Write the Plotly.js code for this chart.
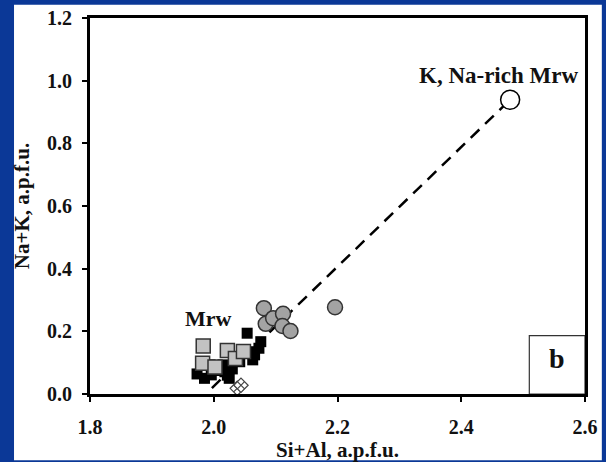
<!DOCTYPE html>
<html>
<head>
<meta charset="utf-8">
<script src="https://cdn.plot.ly/plotly-3.0.1.min.js"></script>
<style>
  html, body { margin: 0; padding: 0; background: #0b3897; }
  #chart { width: 606px; height: 462px; }
</style>
</head>
<body>
<div id="chart"></div>
<script>
// Si+Al vs Na+K (a.p.f.u.) for merwinite analyses

// Mrw, grey squares
const mrwGreyX = [1.983, 1.982, 2.002, 2.022, 2.035, 2.048];
const mrwGreyY = [0.153, 0.098, 0.086, 0.139, 0.113, 0.136];

// Mrw, black squares
const mrwBlackX = [2.054, 2.076, 2.073, 2.066, 2.063, 2.058, 2.015, 2.018, 2.025, 2.030, 1.973, 1.985, 1.996, 1.994, 2.042, 2.008, 2.022];
const mrwBlackY = [0.194, 0.167, 0.146, 0.125, 0.109, 0.135, 0.093, 0.071, 0.050, 0.080, 0.064, 0.050, 0.061, 0.093, 0.103, 0.075, 0.060];

// grey circles
const circX = [2.081, 2.084, 2.096, 2.112, 2.111, 2.124, 2.196];
const circY = [0.274, 0.224, 0.242, 0.256, 0.217, 0.201, 0.277];

// hatched diamonds
const diamX = [2.038, 2.044];
const diamY = [0.018, 0.028];

// K, Na-rich Mrw
const richX = [2.479];
const richY = [0.939];

// trend line between Mrw and K, Na-rich Mrw
const trendX = [1.997, 2.479];
const trendY = [0.019, 0.939];

const xTicks = [1.8, 2.0, 2.2, 2.4, 2.6];
const yTicks = [0.0, 0.2, 0.4, 0.6, 0.8, 1.0, 1.2];

const serif = 'Liberation Serif, Times New Roman, serif';

const traces = [
  {
    x: trendX, y: trendY, mode: 'lines', type: 'scatter',
    line: { color: '#000', width: 2.5, dash: '12px,8px' }, hoverinfo: 'skip'
  },
  {
    x: mrwBlackX, y: mrwBlackY, mode: 'markers', type: 'scatter',
    marker: { symbol: 'square', size: 11, color: '#000', line: { color: '#000', width: 0 } }
  },
  {
    x: mrwGreyX, y: mrwGreyY, mode: 'markers', type: 'scatter',
    marker: { symbol: 'square', size: 14, color: '#c2c2c2', line: { color: '#333', width: 1.5 } }
  },
  {
    x: circX, y: circY, mode: 'markers', type: 'scatter',
    marker: { symbol: 'circle', size: 15, color: '#a3a3a3', line: { color: '#333', width: 1.5 } }
  },
  {
    x: diamX, y: diamY, mode: 'markers', type: 'scatter',
    marker: { symbol: 'diamond-x', size: 11, color: '#fff', line: { color: '#444', width: 1.2 } }
  },
  {
    x: richX, y: richY, mode: 'markers', type: 'scatter',
    marker: { symbol: 'circle', size: 19, color: '#fff', line: { color: '#000', width: 1.5 } }
  }
];

const axisCommon = {
  showgrid: false, zeroline: false,
  showline: true, linecolor: '#000', linewidth: 3, mirror: true,
  ticks: 'outside', ticklen: 5, tickwidth: 2, tickcolor: '#000',
  tickformat: '.1f',
  tickfont: { family: serif, size: 20, color: '#111', weight: 'bold' }
};

const layout = {
  width: 606, height: 462,
  margin: { l: 90, r: 21, t: 18, b: 68 },
  paper_bgcolor: '#0b3897',
  plot_bgcolor: '#fff',
  showlegend: false,
  xaxis: Object.assign({}, axisCommon, {
    range: [1.8, 2.6], tickvals: xTicks, ticklabelstandoff: 8,
    title: { text: 'Si+Al, a.p.f.u.', font: { family: serif, size: 21, color: '#111', weight: 'bold' }, standoff: 5 }
  }),
  yaxis: Object.assign({}, axisCommon, {
    range: [0, 1.2], tickvals: yTicks, ticklabelstandoff: 6,
    title: { text: 'Na+K, a.p.f.u.', font: { family: serif, size: 21, color: '#111', weight: 'bold' }, standoff: 12 }
  }),
  shapes: [
    // white panel behind the chart
    { type: 'rect', xref: 'paper', yref: 'paper', x0: -0.1535, x1: 1.034, y0: -0.176, y1: 1.035,
      fillcolor: '#fff', line: { width: 0 }, layer: 'below' },
    // panel letter box
    { type: 'rect', xref: 'x', yref: 'y', x0: 2.51, x1: 2.6, y0: 0, y1: 0.186,
      fillcolor: 'rgba(0,0,0,0)', line: { color: '#333', width: 1.2 }, layer: 'above' }
  ],
  annotations: [
    { x: 2.461, y: 1.018, xref: 'x', yref: 'y', text: 'K, Na-rich Mrw', showarrow: false,
      font: { family: serif, size: 23, color: '#111', weight: 'bold' } },
    { x: 1.992, y: 0.242, xref: 'x', yref: 'y', text: 'Mrw', showarrow: false,
      font: { family: serif, size: 22, color: '#111', weight: 'bold' } },
    { x: 2.555, y: 0.112, xref: 'x', yref: 'y', text: 'b', showarrow: false,
      font: { family: serif, size: 28, color: '#111', weight: 'bold' } }
  ]
};

Plotly.newPlot('chart', traces, layout, { staticPlot: true, displayModeBar: false });
</script>
</body>
</html>
